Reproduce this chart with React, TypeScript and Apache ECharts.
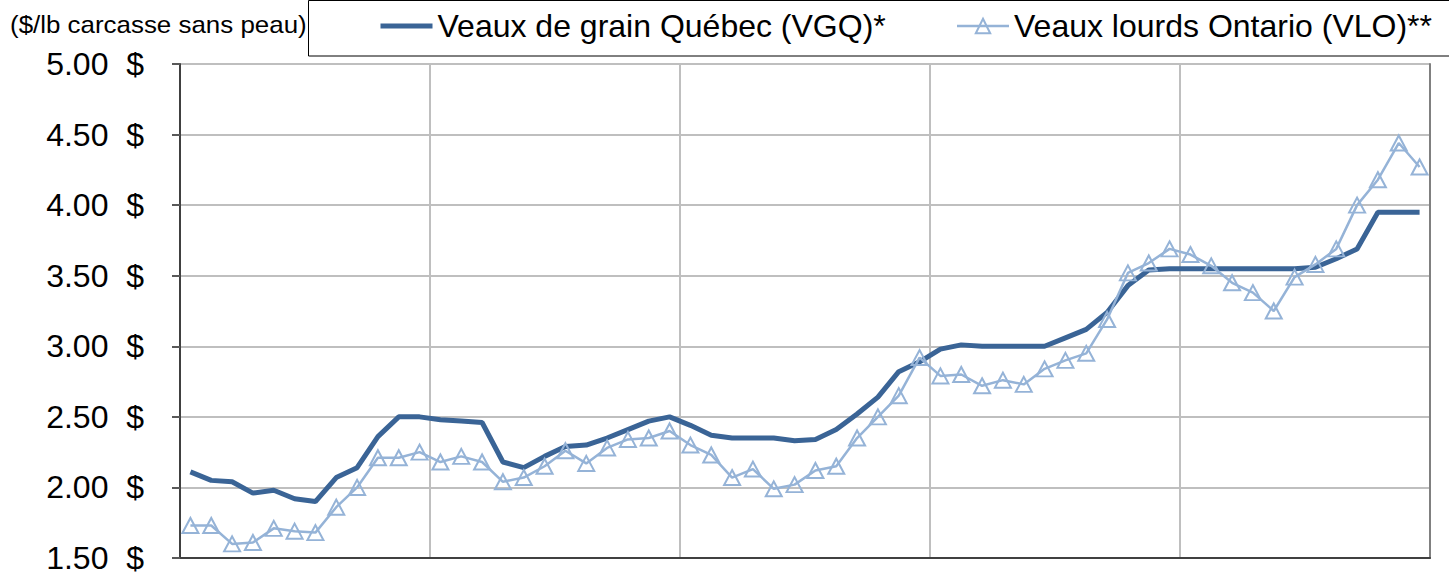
import React, { useEffect, useRef } from "react";
import * as echarts from "echarts";

const months: string[] = Array.from({ length: 60 }, (_, i) => `Mois ${i + 1}`);

const vgq: number[] = [
  2.11, 2.05, 2.04, 1.96, 1.98, 1.92, 1.9, 2.07, 2.14, 2.36, 2.5, 2.5,
  2.48, 2.47, 2.46, 2.18, 2.14, 2.22, 2.29, 2.3, 2.35, 2.41, 2.47, 2.5,
  2.44, 2.37, 2.35, 2.35, 2.35, 2.33, 2.34, 2.41, 2.52, 2.64, 2.82, 2.89,
  2.98, 3.01, 3.0, 3.0, 3.0, 3.0, 3.06, 3.12, 3.24, 3.43, 3.54, 3.55,
  3.55, 3.55, 3.55, 3.55, 3.55, 3.55, 3.56, 3.62, 3.69, 3.95, 3.95, 3.95,
];

const vlo: number[] = [
  1.73, 1.73, 1.6, 1.61, 1.71, 1.69, 1.68, 1.86, 2.0, 2.21, 2.21, 2.25,
  2.18, 2.22, 2.18, 2.04, 2.07, 2.15, 2.26, 2.17, 2.28, 2.34, 2.35, 2.4,
  2.3, 2.23, 2.07, 2.13, 1.99, 2.02, 2.12, 2.15, 2.35, 2.5, 2.65, 2.92,
  2.79, 2.8, 2.72, 2.76, 2.73, 2.84, 2.9, 2.95, 3.19, 3.52, 3.59, 3.69,
  3.65, 3.57, 3.45, 3.38, 3.25, 3.49, 3.58, 3.69, 4.0, 4.18, 4.44, 4.27,
];

const seriesNames: string[] = [
  "Veaux de grain Québec (VGQ)*",
  "Veaux lourds Ontario (VLO)**",
];
const unitLabel = "($/lb carcasse sans peau)";

const FONT = "'Liberation Sans', Arial, sans-serif";
const DARK = "#3A6496";
const LIGHT = "#95B3D7";

export default function App() {
  const ref = useRef<HTMLDivElement>(null);

  useEffect(() => {
    if (!ref.current) return;
    const chart = echarts.init(ref.current, null, { renderer: "svg" });
    chart.setOption({
      animation: false,
      backgroundColor: "#ffffff",
      textStyle: { fontFamily: FONT },
      grid: { left: 180, right: 19, top: 64, bottom: 17, containLabel: false },
      graphic: [
        {
          type: "rect",
          shape: { x: 308.5, y: 0.5, width: 1300, height: 55.5 },
          style: { fill: "none", stroke: "#000000", lineWidth: 1 },
          z: 0,
        },
        {
          type: "text",
          x: 10,
          y: 24,
          scaleX: 1.08,
          style: {
            text: unitLabel,
            fontSize: 24,
            fontFamily: FONT,
            fill: "#000000",
            verticalAlign: "middle",
          },
        },
      ],
      legend: {
        left: 378,
        top: 10,
        padding: 0,
        itemWidth: 52,
        itemHeight: 18,
        itemGap: 70,
        textStyle: { fontSize: 32, color: "#000000", fontFamily: FONT },
        data: [
          {
            name: seriesNames[0],
            lineStyle: { width: 5, color: DARK },
            itemStyle: {
              color: "rgba(0,0,0,0)",
              borderColor: "rgba(0,0,0,0)",
              borderWidth: 0,
            },
          },
          { name: seriesNames[1], lineStyle: { width: 2.5, color: LIGHT } },
        ],
      },
      xAxis: {
        type: "category",
        data: months,
        boundaryGap: true,
        axisLine: { show: true, lineStyle: { color: "#404040", width: 2 } },
        axisTick: { show: false, interval: 11 },
        axisLabel: { show: false, interval: 11 },
        splitLine: {
          show: true,
          interval: 11,
          lineStyle: { color: "#BFBFBF", width: 2 },
        },
      },
      yAxis: [
        {
          type: "value",
          min: 1.5,
          max: 5,
          interval: 0.5,
          axisLine: { show: true, lineStyle: { color: "#404040", width: 2 } },
          axisTick: {
            show: true,
            length: 8,
            lineStyle: { color: "#595959", width: 2 },
          },
          axisLabel: {
            margin: 36,
            fontSize: 32,
            color: "#000000",
            fontFamily: FONT,
            formatter: (v: number) => `${v.toFixed(2)}\u00a0\u00a0$`,
          },
          splitLine: { show: true, lineStyle: { color: "#BFBFBF", width: 2 } },
        },
        {
          type: "value",
          position: "right",
          min: 1.5,
          max: 5,
          interval: 0.5,
          axisLine: { show: true, lineStyle: { color: "#808080", width: 2 } },
          axisTick: { show: false },
          axisLabel: { show: false },
          splitLine: { show: false },
        },
      ],
      series: [
        {
          name: seriesNames[0],
          type: "line",
          data: vgq,
          symbol: "none",
          color: DARK,
          lineStyle: { color: DARK, width: 5 },
          z: 3,
        },
        {
          name: seriesNames[1],
          type: "line",
          data: vlo,
          symbol: "triangle",
          symbolSize: [16, 15],
          showAllSymbol: true,
          lineStyle: { color: LIGHT, width: 2.5 },
          itemStyle: {
            color: "rgba(255,255,255,0)",
            borderColor: LIGHT,
            borderWidth: 2,
          },
          z: 4,
        },
      ],
    });
    return () => chart.dispose();
  }, []);

  return (
    <div
      ref={ref}
      style={{ position: "absolute", left: 0, top: 0, width: 1449, height: 575 }}
    />
  );
}
